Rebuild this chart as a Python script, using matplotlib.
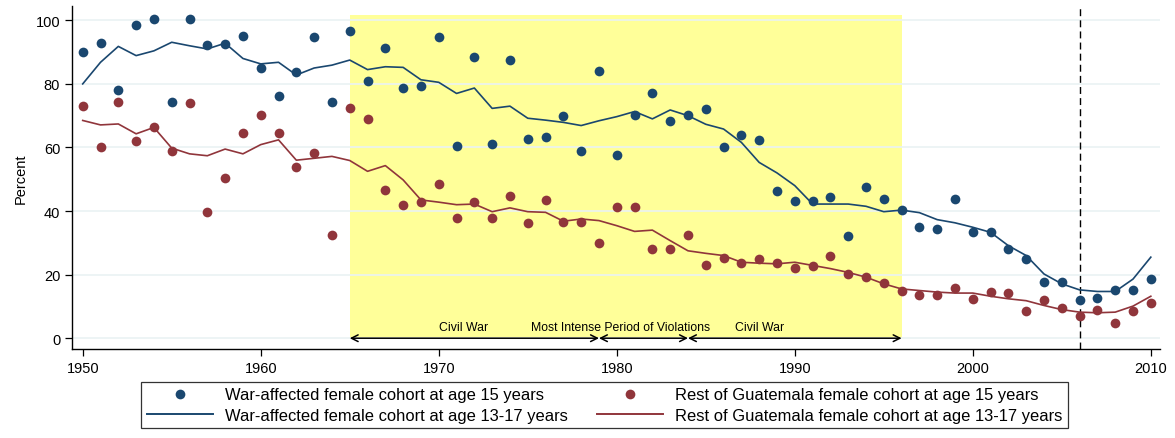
import matplotlib
matplotlib.use("Agg")
import matplotlib.pyplot as plt
from matplotlib.lines import Line2D
import numpy as np

years = list(range(1950, 2011))

war_dots = [90.0, 93.0, 78.1, 98.5, 100.3, 74.4, 100.3, 92.2, 92.5, 95.0,
            85.1, 76.1, 83.6, 94.7, 74.2, 96.7, 80.8, 91.3, 78.8, 79.2,
            94.8, 60.4, 88.6, 61.2, 87.6, 62.7, 63.4, 69.8, 58.8, 84.1,
            57.6, 70.2, 77.1, 68.2, 70.3, 72.1, 60.2, 64.0, 62.3, 46.3,
            43.2, 43.2, 44.5, 32.3, 47.6, 43.8, 40.4, 35.1, 34.4, 43.8,
            33.3, 33.3, 28.1, 25.0, 17.8, 17.7, 12.1, 12.8, 15.1, 15.1,
            18.6]

rest_dots = [73.0, 60.1, 74.4, 62.0, 66.5, 58.8, 74.1, 39.6, 50.3, 64.6,
             70.3, 64.6, 53.9, 58.3, 32.6, 72.4, 69.0, 46.6, 42.0, 42.8,
             48.5, 37.9, 42.8, 37.7, 44.7, 36.3, 43.5, 36.6, 36.6, 30.0,
             41.2, 41.2, 28.1, 28.1, 32.6, 23.1, 25.2, 23.7, 24.9, 23.7,
             22.2, 22.6, 26.0, 20.3, 19.1, 17.3, 14.8, 13.6, 13.7, 15.7,
             12.4, 14.5, 14.2, 8.5, 11.9, 9.4, 7.0, 8.9, 4.8, 8.6,
             11.0]

war_line = [80.0, 86.8, 91.8, 88.9, 90.4, 93.1, 92.0, 91.0, 92.8, 88.0,
            86.3, 86.8, 82.8, 85.0, 85.9, 87.5, 84.5, 85.4, 85.2, 81.3,
            80.5, 77.0, 78.7, 72.3, 73.0, 69.2, 68.6, 67.9, 66.9, 68.4,
            69.7, 71.3, 69.0, 71.8, 70.0, 67.3, 65.8, 61.6, 55.3, 52.0,
            48.0, 42.2, 42.2, 42.2, 41.5, 39.8, 40.3, 39.5, 37.3, 36.3,
            34.9, 33.3, 29.1, 26.0, 20.2, 17.1, 15.2, 14.7, 14.7, 18.6,
            25.5]

rest_line = [68.5, 67.1, 67.4, 64.3, 66.3, 59.8, 58.0, 57.4, 59.5, 58.0,
             60.9, 62.4, 56.0, 56.6, 57.2, 55.9, 52.5, 54.3, 49.8, 43.5,
             42.8, 42.0, 42.2, 39.8, 41.0, 39.8, 39.6, 36.8, 37.5, 37.0,
             35.4, 33.6, 34.0, 30.7, 27.5, 26.7, 26.0, 23.9, 23.6, 23.4,
             23.9, 22.9, 21.9, 20.7, 19.2, 17.1, 15.5, 15.0, 14.5, 14.2,
             14.2, 13.2, 12.4, 11.8, 10.3, 9.0, 8.2, 8.0, 8.2, 10.1,
             13.2]

period_bounds = [1965, 1979, 1984, 1996]
period_labels = ["Civil War", "Most Intense Period of Violations", "Civil War"]
period_label_x = [1971.4, 1980.2, 1988.0]
dashed_year = 2006

legend_labels = ["War-affected female cohort at age 15 years",
                 "War-affected female cohort at age 13-17 years",
                 "Rest of Guatemala female cohort at age 15 years",
                 "Rest of Guatemala female cohort at age 13-17 years"]

BLUE = "#1a476f"
RED = "#90353b"
YELLOW = "#ffff99"
GRID = "#eaf2f3"

plt.rcParams['font.family'] = ['Liberation Sans', 'DejaVu Sans']

fig = plt.figure(figsize=(11.75, 4.39), dpi=100)
ax = fig.add_axes([0.0613, 0.2027, 0.987 - 0.0613, 0.984 - 0.2027])

ax.set_xlim(1949.4, 2010.5)
ax.set_ylim(-3.4, 104.5)

ax.fill_between([period_bounds[0], period_bounds[-1]], 0, 101.7,
                color=YELLOW, zorder=0, linewidth=0)

for v in range(0, 101, 20):
    ax.axhline(v, color=GRID, lw=1.2, zorder=0.5)

ax.axvline(dashed_year, color="black", lw=1.0, ls=(0, (5, 3)), zorder=1)

ax.plot(years, war_line, color=BLUE, lw=1.2, zorder=3)
ax.plot(years, rest_line, color=RED, lw=1.2, zorder=3)
ax.plot(years, war_dots, 'o', color=BLUE, ms=7, mec='none', zorder=4)
ax.plot(years, rest_dots, 'o', color=RED, ms=7, mec='none', zorder=4)

for a, b in zip(period_bounds[:-1], period_bounds[1:]):
    ax.annotate("", xy=(a, 0), xytext=(b, 0),
                arrowprops=dict(arrowstyle="<->", color="black", lw=1.1,
                                shrinkA=0, shrinkB=0, mutation_scale=12),
                zorder=5)
for lx, lt in zip(period_label_x, period_labels):
    ax.text(lx, 3.6, lt, ha='center', va='center', fontsize=8.8, zorder=5)

ax.spines['top'].set_visible(False)
ax.spines['right'].set_visible(False)
ax.spines['left'].set_linewidth(1.0)
ax.spines['bottom'].set_linewidth(1.0)
ax.spines['left'].set_bounds(-3.4, 104.5)

ax.set_xticks(range(1950, 2011, 10))
ax.set_yticks(range(0, 101, 20))
ax.tick_params(axis='both', direction='out', length=5, width=0.9, labelsize=10.5)
ax.set_ylabel("Percent", fontsize=10.5, labelpad=6)

handles = [Line2D([], [], ls='none', marker='o', color=BLUE, ms=7, mec='none'),
           Line2D([], [], color=BLUE, lw=1.4),
           Line2D([], [], ls='none', marker='o', color=RED, ms=7, mec='none'),
           Line2D([], [], color=RED, lw=1.4)]
leg = fig.legend(handles, legend_labels, ncol=2, loc='lower center',
                 bbox_to_anchor=(0.5145, 0.003), fontsize=11.9, frameon=True,
                 fancybox=False, edgecolor='black', handlelength=4,
                 columnspacing=1.8, labelspacing=0.32, borderpad=0.35,
                 handletextpad=0.7)
leg.get_frame().set_linewidth(0.9)

fig.savefig("out.png", dpi=100)
